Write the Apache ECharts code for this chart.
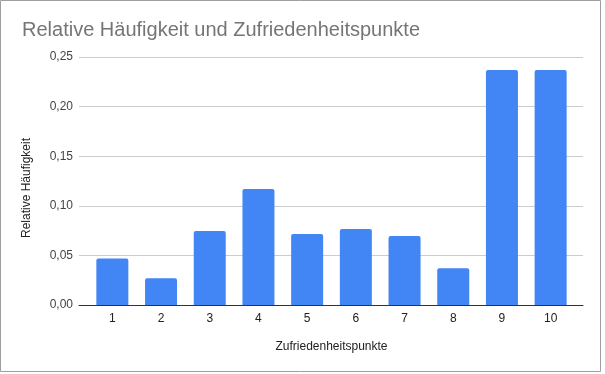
<!DOCTYPE html>
<html><head><meta charset="utf-8">
<script src="https://cdn.jsdelivr.net/npm/echarts@6/dist/echarts.min.js"></script>
<style>html,body{margin:0;padding:0;background:#fff}#c{width:605px;height:374px}</style>
</head><body><div id="c"></div>
<script>
const categories = ['1','2','3','4','5','6','7','8','9','10'];
const values = [0.047, 0.027, 0.0745, 0.117, 0.0715, 0.0765, 0.0695, 0.037, 0.237, 0.237];
const yTicks = [0, 0.05, 0.10, 0.15, 0.20, 0.25];
const titleText = 'Relative Häufigkeit und Zufriedenheitspunkte';
const xName = 'Zufriedenheitspunkte';
const yName = 'Relative Häufigkeit';

const font = 'Liberation Sans, Arial, sans-serif';
const chart = echarts.init(document.getElementById('c'), null, {renderer:'canvas'});
chart.setOption({
  animation: false,
  title: {text: titleText, left: 17, top: 15, textStyle: {fontFamily: font, fontSize: 20, fontWeight: 'normal', color: '#757575'}},
  graphic: [
    {type:'rect', shape:{x:0.5, y:0.5, width:600, height:371}, style:{fill:null, stroke:'#9e9e9e', lineWidth:1}, z:-1},
    {type:'text', x:27, y:188, rotation:Math.PI/2, style:{text:yName, font:'12px ' + font, fill:'#222', align:'center', verticalAlign:'middle'}}
  ],
  grid: [
    {left: 88, right: 30, top: 57, bottom: 69},
    {left: 79, right: 22, top: 57, bottom: 69}
  ],
  xAxis: [
    {gridIndex:0, type:'category', data: categories, axisLine:{show:false}, axisTick:{show:false},
     axisLabel:{fontFamily:font, fontSize:12, color:'#222', margin:8},
     name: xName, nameLocation:'middle', nameGap:36, nameTextStyle:{fontFamily:font, fontSize:12, color:'#222'}},
    {gridIndex:1, type:'value', min:0, max:1, axisLine:{show:true, lineStyle:{color:'#333', width:1}}, axisTick:{show:false}, axisLabel:{show:false}, splitLine:{show:false}}
  ],
  yAxis: [
    {gridIndex:0, type:'value', min:0, max:yTicks[yTicks.length-1], interval:0.05, axisLabel:{show:false}, axisLine:{show:false}, axisTick:{show:false}, splitLine:{show:false}},
    {gridIndex:1, type:'value', min:0, max:yTicks[yTicks.length-1], interval:0.05,
     axisLine:{show:false}, axisTick:{show:false},
     axisLabel:{fontFamily:font, fontSize:12, color:'#444', margin:6, formatter: v => v.toFixed(2).replace('.', ',')},
     splitLine:{show:true, lineStyle:{color:'#cccccc', width:1}}}
  ],
  series: [{
    type:'bar', xAxisIndex:0, yAxisIndex:0, data: values, barWidth: 32,
    itemStyle:{color:'#4285F4', borderRadius:[2,2,0,0]}, z:3
  }]
});
</script></body></html>
